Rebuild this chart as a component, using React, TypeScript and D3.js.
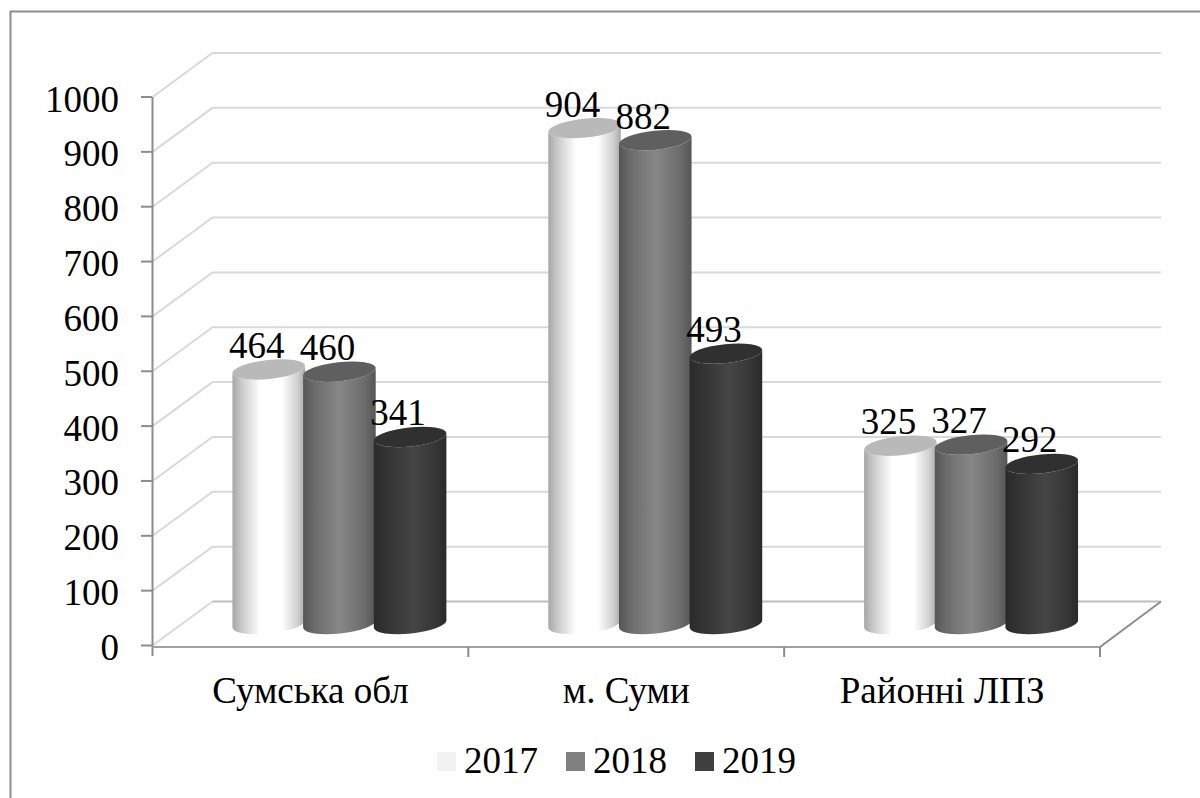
import React from "react";
import * as d3 from "d3";

const categories = ["Сумська обл", "м. Суми", "Районні ЛПЗ"];
const years = ["2017", "2018", "2019"];
const values2017 = [464, 904, 325];
const values2018 = [460, 882, 327];
const values2019 = [341, 493, 292];
const yTicks = [0, 100, 200, 300, 400, 500, 600, 700, 800, 900, 1000];

const seriesValues = [values2017, values2018, values2019];
const swatch = ["#f2f2f2", "#808080", "#404040"];
const tops = ["#b9b9b9", "#5f5f5f", "#303030"];
const stops = [
  [["0%", "#a6a6a6"], ["12%", "#c8c8c8"], ["38%", "#ffffff"], ["68%", "#ffffff"], ["90%", "#cfcfcf"], ["100%", "#a8a8a8"]],
  [["0%", "#565656"], ["15%", "#6b6b6b"], ["50%", "#878787"], ["85%", "#6b6b6b"], ["100%", "#565656"]],
  [["0%", "#2a2a2a"], ["20%", "#343434"], ["55%", "#454545"], ["85%", "#363636"], ["100%", "#2a2a2a"]],
];

const FONT = "'Liberation Serif', 'Times New Roman', serif";
const FS = 37;
const depthX = 60;
const depthY = -44;
const rx = 36.5;
const ry = 9.5;
const tilt = -6;
const baseShift = -21.5; // cylinder base centre sits this far above the front floor edge
const labelDx = -12;
const labelDy = -11.5;

const y = d3.scaleLinear().domain([0, 1000]).range([645.5, 97]);
const x0 = d3.scaleBand<string>().domain(categories).range([152.5, 1100]);
const x1 = d3.scaleBand<string>().domain(years).range([-77, 135]);

function centre(c: string, yr: string) {
  return x0(c)! + x0.bandwidth() / 2 + x1(yr)! + x1.bandwidth() / 2;
}

function cylinder(cx: number, topY: number, botY: number) {
  const a = (tilt * Math.PI) / 180;
  const dx = rx * Math.cos(a);
  const dy = rx * Math.sin(a);
  return `M${cx - dx},${topY - dy} L${cx - dx},${botY - dy} A${rx},${ry} ${tilt} 0 0 ${cx + dx},${botY + dy} L${cx + dx},${topY + dy} A${rx},${ry} ${tilt} 0 1 ${cx - dx},${topY - dy} Z`;
}

export default function App() {
  const floorY = y(0);
  return (
    <svg width={1200} height={798} style={{ position: "absolute", left: 0, top: 0, background: "#fff" }} fontFamily={FONT}>
      <defs>
        {stops.map((st, i) => (
          <linearGradient key={i} id={`g${i}`} x1="0" x2="1" y1="0" y2="0">
            {st.map(([o, c]) => <stop key={o} offset={o} stopColor={c} />)}
          </linearGradient>
        ))}
      </defs>
      <path d="M10.5,798 L10.5,11.5 L1200,11.5" fill="none" stroke="#8c8c8c" strokeWidth={2} />

      {yTicks.filter((t) => t > 0).map((t) => (
        <path key={t} d={`M152.5,${y(t)} L${152.5 + depthX},${y(t) + depthY} L1161,${y(t) + depthY}`} fill="none" stroke="#d9d9d9" strokeWidth={2} />
      ))}
      <path d={`M152.5,${floorY} L${152.5 + depthX},${floorY + depthY}`} fill="none" stroke="#d9d9d9" strokeWidth={2} />
      <path d={`M${152.5 + depthX},${floorY + depthY} L1161,${floorY + depthY}`} fill="none" stroke="#bdbdbd" strokeWidth={2} />
      <path d={`M1100,647 L1161,${floorY + depthY}`} fill="none" stroke="#8c8c8c" strokeWidth={2} />

      <path d="M152.5,97 L152.5,656" stroke="#8c8c8c" strokeWidth={2} fill="none" />
      <path d="M152.5,647 L1100,647" stroke="#a0a0a0" strokeWidth={2} fill="none" />
      {yTicks.map((t) => (
        <g key={t}>
          <line x1={141} x2={152} y1={y(t)} y2={y(t)} stroke="#8c8c8c" strokeWidth={2} />
          <text x={119} y={y(t) + 14.5} textAnchor="end" fontSize={FS} fill="#000">{t}</text>
        </g>
      ))}
      {categories.map((c) => {
        const bx = x0(c)!;
        return (
          <g key={c}>
            <line x1={bx + x0.bandwidth()} x2={bx + x0.bandwidth()} y1={647} y2={657} stroke="#8c8c8c" strokeWidth={2} />
            <text x={bx + x0.bandwidth() / 2} y={703} textAnchor="middle" fontSize={FS} fill="#000">{c}</text>
          </g>
        );
      })}

      {categories.map((c, ci) => (
        <g key={c}>
          {years.map((yr, si) => {
            const v = seriesValues[si][ci];
            const cx = centre(c, yr);
            const botY = floorY + baseShift;
            const topY = y(v) + baseShift;
            return (
              <g key={yr}>
                <path d={cylinder(cx, topY, botY)} fill={`url(#g${si})`} />
                <ellipse cx={0} cy={0} rx={rx} ry={ry} fill={tops[si]} transform={`translate(${cx},${topY}) rotate(${tilt})`} />
              </g>
            );
          })}
        </g>
      ))}

      {categories.map((c, ci) =>
        years.map((yr, si) => {
          const v = seriesValues[si][ci];
          return (
            <text key={c + yr} x={centre(c, yr) + labelDx} y={y(v) + baseShift + labelDy} textAnchor="middle" fontSize={FS} fill="#000">{v}</text>
          );
        })
      )}

      {years.map((yr, i) => {
        const lx = d3.scaleLinear().domain([0, 2]).range([437, 695])(i);
        return (
          <g key={yr}>
            <rect x={lx} y={752} width={19} height={19} fill={swatch[i]} />
            <text x={lx + 27} y={773} fontSize={FS} fill="#000">{yr}</text>
          </g>
        );
      })}
    </svg>
  );
}
